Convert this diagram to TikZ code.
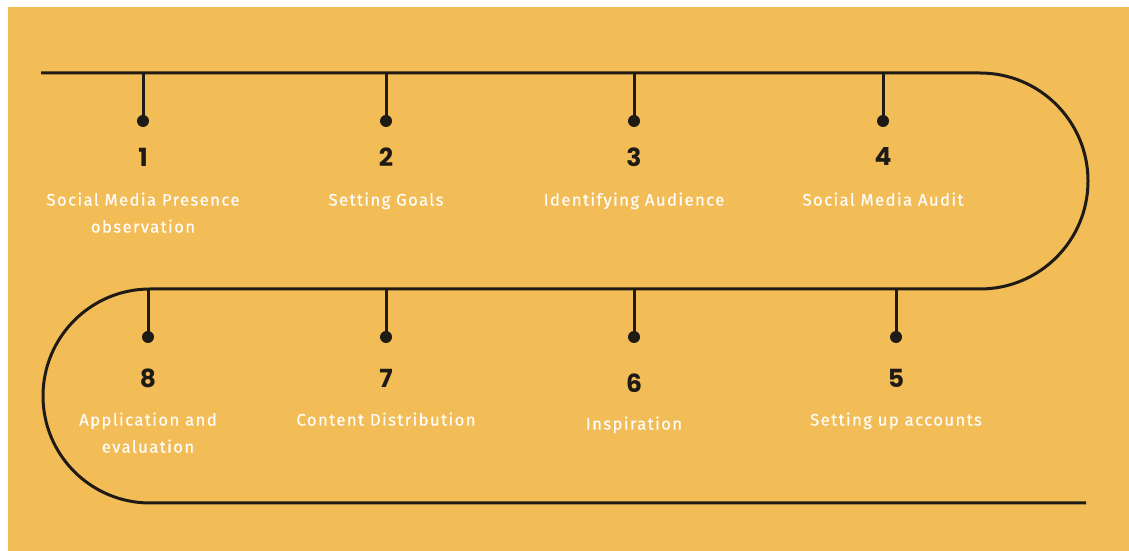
\documentclass[tikz,border=0pt]{standalone}
\usepackage{fontspec}
\setmainfont{Fira Sans}[LetterSpace=8, FakeBold=0.6]
\newfontfamily\numfont{Poppins}[BoldFont={* Bold}]
\definecolor{bgorange}{HTML}{F2BC57}
\definecolor{ink}{HTML}{1E1A16}
\begin{document}
\begin{tikzpicture}[x=1pt,y=1pt,
  track/.style={ink, line width=3pt},
  tick/.style={ink, line width=3pt},
  dotmark/.style={circle, fill=ink, inner sep=0pt, minimum size=12pt},
  num/.style={font=\numfont\bfseries\fontsize{25}{27}\selectfont, text=ink},
  lbl/.style={font=\fontsize{16.8}{27}\selectfont, text=white!96!bgorange, align=center}]
  % page and background
  \useasboundingbox (0,0) rectangle (1129,551);
  \fill[white] (0,0) rectangle (1129,551);
  \fill[bgorange] (8,0) rectangle (1129,544);
  % winding track
  \coordinate (tl) at (41,478);
  \coordinate (tr) at (980,478);
  \coordinate (ml) at (150,262);
  \coordinate (mr) at (980,262);
  \coordinate (bl) at (150,48);
  \coordinate (br) at (1086,48);
  \draw[track] (tl) -- (tr) arc[start angle=90, end angle=-90, radius=108]
    -- (ml) arc[start angle=90, end angle=270, radius=107] -- (br);
  % top row
  \foreach \n/\x/\t in {1/143/{Social Media Presence\\observation},
                        2/386/{Setting Goals},
                        3/634/{Identifying Audience},
                        4/883/{Social Media Audit}} {
    \coordinate (top\n) at (\x,478);
    \node[dotmark] (d\n) at (\x,430) {};
    \draw[tick] (top\n) -- (d\n.center);
    \node[num] (n\n) at (\x,394) {\n};
    \node[lbl, anchor=north] (l\n) at (\x,362) {\t};
  }
  % bottom row
  \foreach \n/\x/\ny/\ly/\t in {8/148/173/142/{Application and\\evaluation},
                        7/386/173/142/{Content Distribution},
                        6/634/168/138/{Inspiration},
                        5/896/173/142/{Setting up accounts}} {
    \coordinate (top\n) at (\x,262);
    \node[dotmark] (d\n) at (\x,214) {};
    \draw[tick] (top\n) -- (d\n.center);
    \node[num] (n\n) at (\x,\ny) {\n};
    \node[lbl, anchor=north] (l\n) at (\x,\ly) {\t};
  }
\end{tikzpicture}
\end{document}
